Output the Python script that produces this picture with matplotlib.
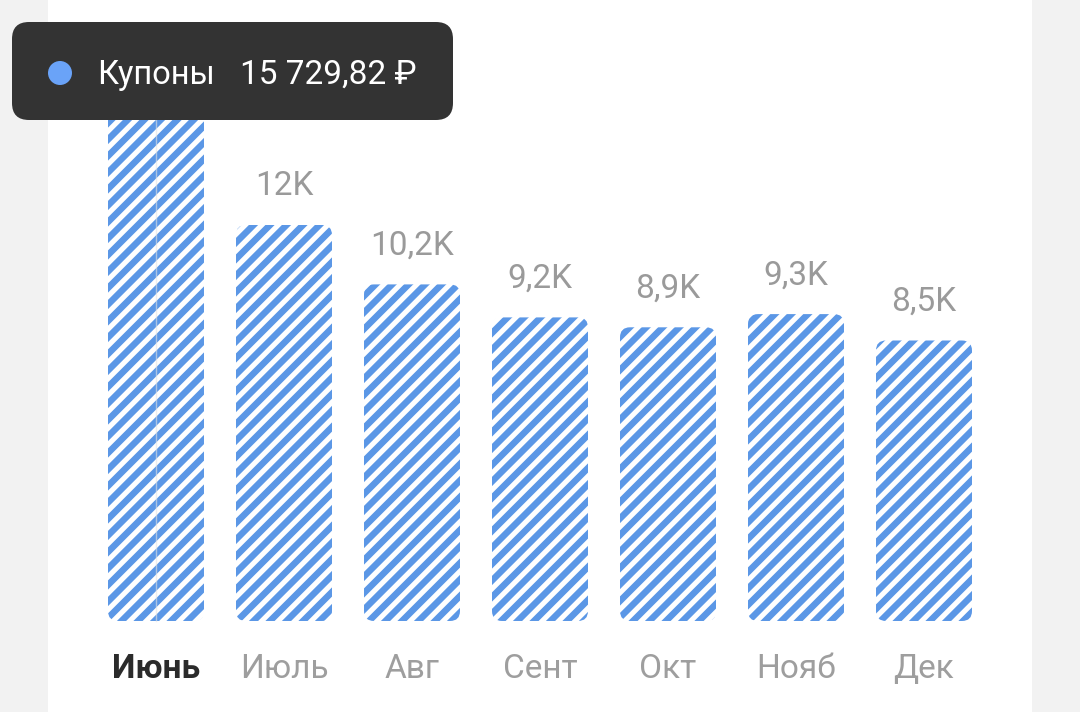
import numpy as np
import matplotlib.pyplot as plt
from matplotlib.patches import FancyBboxPatch, Circle
from matplotlib.collections import LineCollection
from matplotlib.transforms import IdentityTransform

plt.rcParams['font.family'] = ['Roboto', 'DejaVu Sans']

months = ['Июнь', 'Июль', 'Авг', 'Сент', 'Окт', 'Нояб', 'Дек']
values = [15.73, 12.0, 10.2, 9.2, 8.9, 9.3, 8.5]   # thousands of rubles
value_labels = ['15,7K', '12K', '10,2K', '9,2K', '8,9K', '9,3K', '8,5K']
active = 0   # the hovered month, its label is under the tooltip
tooltip_name = 'Купоны'
tooltip_value = '15 729,82 ₽'

W, H = 1080, 712
fig = plt.figure(figsize=(W / 100, H / 100), dpi=100, facecolor='#f2f2f2')
# white card, x from 48 to 1032 px
ax = fig.add_axes([48 / W, 0, 984 / W, 1])
ax.set_facecolor('white')
for s in ax.spines.values():
    s.set_visible(False)
ax.set_xticks([])
ax.set_yticks([])

px_x = 128.0   # px per category
px_y = 33.0    # px per 1K
ax.set_xlim(-108 / px_x, 876 / px_x)
ax.set_ylim(-91 / px_y, 621 / px_y)

blue = '#5b97e6'
bw = 0.75
aspect = px_x / px_y

# diagonal stripes in pixel space, clipped to each bar
period = 16.5
segs = [[(0, -c), (W, W - c)] for c in np.arange(-H, W + H, period)]

for i, v in enumerate(values):
    bar = FancyBboxPatch((i - bw / 2, 0), bw, v,
                         boxstyle='round,pad=0,rounding_size=%f' % (10 / px_x),
                         mutation_aspect=aspect,
                         facecolor='white', edgecolor='none', linewidth=0, zorder=2)
    ax.add_patch(bar)
    stripes = LineCollection(segs, colors=blue, linewidths=4.7,
                             transform=IdentityTransform(), zorder=2.5)
    stripes.set_clip_path(bar)
    ax.add_collection(stripes, autolim=False)
    if i != active:
        ax.annotate(value_labels[i], (i, v), xytext=(0, 21.5), textcoords='offset points',
                    ha='center', va='baseline', fontsize=24, color='#9a9a9a', zorder=3)
    if i == active:
        ax.text(i, -57 / px_y, months[i], ha='center', va='baseline',
                fontsize=24, fontweight='bold', color='#2b2b2b')
    else:
        ax.text(i, -57 / px_y, months[i], ha='center', va='baseline',
                fontsize=24, color='#9e9e9e')

# hover line through the active bar
ax.plot([active, active], [0, values[active]], color='#e4e4e4', lw=1, alpha=0.6, zorder=3)

# tooltip, in pixel coordinates
tip = FancyBboxPatch((12, H - 120), 441, 98,
                     boxstyle='round,pad=0,rounding_size=17',
                     transform=IdentityTransform(),
                     facecolor='#333333', edgecolor='none', zorder=10)
fig.add_artist(tip)
dot = Circle((60, H - 73), 12, transform=IdentityTransform(),
             facecolor='#6aa3f8', edgecolor='none', zorder=11)
fig.add_artist(dot)
fig.text(97 / W, 1 - 84 / H, tooltip_name, fontsize=23.5, color='white',
         ha='left', va='baseline', zorder=12)
fig.text(240 / W, 1 - 84 / H, tooltip_value, fontsize=24, color='white',
         ha='left', va='baseline', zorder=12)

fig.savefig('out.png', dpi=100, facecolor=fig.get_facecolor())
